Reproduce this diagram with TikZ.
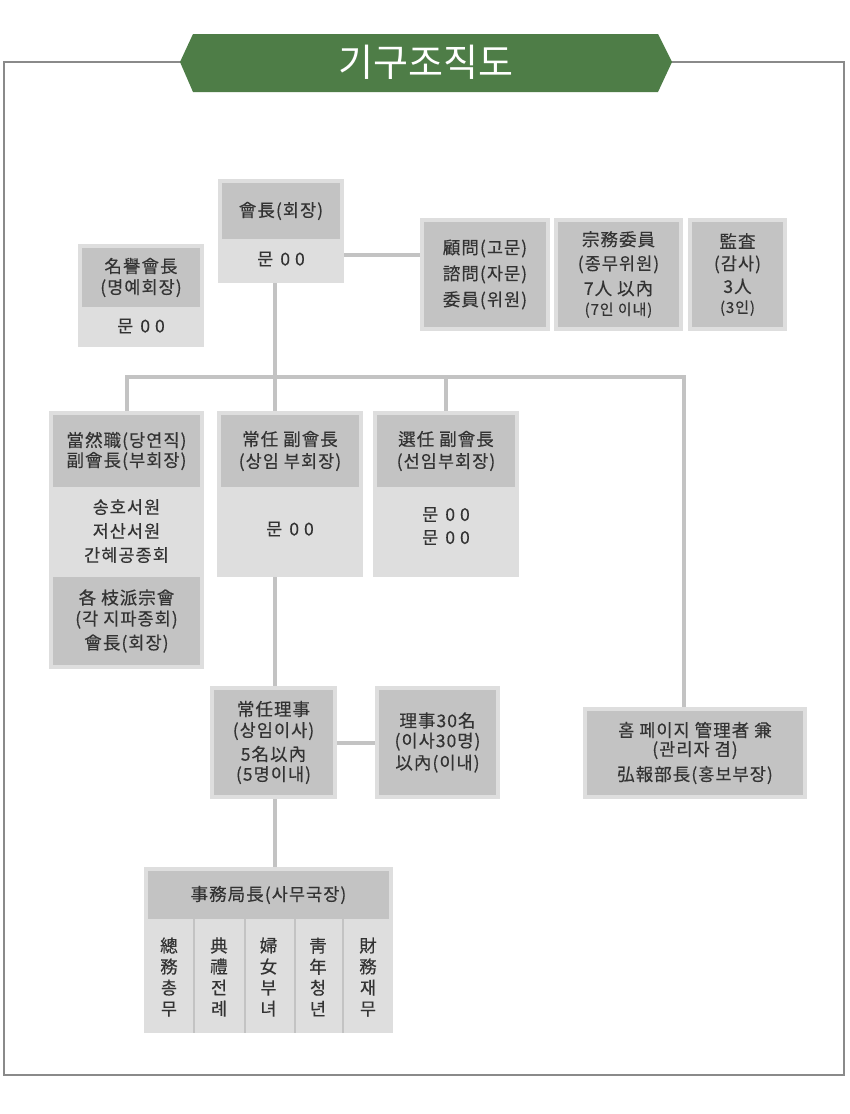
\documentclass[tikz,border=0pt]{standalone}
\usepackage{fontspec}
\setmainfont{Noto Sans CJK KR}
\newfontfamily\bodyfont[FakeBold=0.35,LetterSpace=6]{Noto Sans CJK KR}
\definecolor{Frame}{HTML}{8A8A8A}
\definecolor{Leaf}{HTML}{4E7D47}
\definecolor{PaleGrey}{HTML}{DEDEDE}
\definecolor{MidGrey}{HTML}{C3C3C3}
\definecolor{Ink}{HTML}{333333}
\newcommand{\smalltxt}{\fontsize{15}{17}\selectfont}
\newcommand{\mun}{문\hspace{7pt}0\hspace{5pt}0}

\begin{document}
\begin{tikzpicture}[x=1pt,y=-1pt,every node/.style={font=\bodyfont\fontsize{17.5}{21}\selectfont,
  text=Ink,align=center,inner sep=0pt},outer/.style={fill=PaleGrey},head/.style={fill=MidGrey},
  link/.style={draw=MidGrey,line width=4pt}]
  \fill[white] (0,0) rectangle (850,1114);
  \useasboundingbox (0,0) rectangle (850,1114);
  \draw[Frame,line width=2pt] (4,62) rectangle (844,1075);
  \fill[Leaf] (180,62)--(193,34)--(658,34)--(672,62)--(658,92)--(193,92)--cycle;
  \node[text=white,font=\fontsize{38}{42}\selectfont] (title) at (426,62) {기구조직도};
  % connectors
  \coordinate (spine) at (275,377);
  \node[outer,minimum width=126pt,minimum height=104pt] (pres) at (281,231) {};
  \node[outer,minimum width=130pt,minimum height=113pt] (adv) at (485,274.5) {};
  \node[outer,minimum width=155pt,minimum height=258pt] (dang) at (126.5,540) {};
  \node[outer,minimum width=146pt,minimum height=166pt] (vice) at (290,494) {};
  \node[outer,minimum width=146pt,minimum height=166pt] (elect) at (446,494) {};
  \node[outer,minimum width=127pt,minimum height=113pt] (exec) at (273.5,742.5) {};
  \node[outer,minimum width=125pt,minimum height=113pt] (dir) at (437.5,742.5) {};
  \node[outer,minimum width=224pt,minimum height=92pt] (home) at (695,753) {};
  \node[outer,minimum width=249pt,minimum height=166pt] (sec) at (268.5,950) {};
  \draw[link] (pres.south -| spine) -- (vice.north -| spine);
  \draw[link] (dang.north) |- (spine) -| ([xshift=-11pt]home.north);
  \draw[link] (elect.north) -- (elect.north |- spine);
  \draw[link] (vice.south -| spine) -- (exec.north -| spine);
  \draw[link] (exec.south -| spine) -- (sec.north -| spine);
  \draw[link] (exec.east) -- (dir.west);
  \coordinate (tap) at ([yshift=-24pt]pres.east);
  \draw[link] (tap) -- (tap -| adv.west);
  % top row
  \node[head,minimum width=118pt,minimum height=56pt] (presh) at (281,211) {會長(회장)};
  \node (presn) at (281,259) {\mun};
  \node[outer,minimum width=126pt,minimum height=103pt] (honor) at (141,295.5) {};
  \node[head,minimum width=118pt,minimum height=59pt] (honorh) at (141,277.5)
    {名譽會長\\[0pt](명예회장)};
  \node (honorn) at (141,326) {\mun};
  \node[head,minimum width=122pt,minimum height=105pt] (advh) at (485,274.5)
    {顧問(고문)\\[5pt]諮問(자문)\\[5pt]委員(위원)};
  \node[outer,minimum width=129pt,minimum height=113pt] (board) at (618.5,274.5) {};
  \node[head,minimum width=121pt,minimum height=105pt] (boardh) at (618.5,274.5)
    {宗務委員\\[3pt](종무위원)\\[4pt]7人 以內\\[-1pt]{\smalltxt (7인 이내)}};
  \node[outer,minimum width=99pt,minimum height=113pt] (audit) at (737.5,274.5) {};
  \node[head,minimum width=91pt,minimum height=105pt] (audith) at (737.5,274.5)
    {監査\\[1pt](감사)\\[2pt]3人\\[-1pt]{\smalltxt (3인)}};
  % middle row
  \node[head,minimum width=147pt,minimum height=72pt] (dangh) at (126.5,451)
    {當然職(당연직)\\[-1pt]副會長(부회장)};
  \node (dangn) at (126.5,531) {송호서원\\[3pt]저산서원\\[3pt]간혜공종회};
  \node[head,minimum width=147pt,minimum height=88pt] (branch) at (126.5,621)
    {各 枝派宗會\\[0pt](각 지파종회)\\[3pt]會長(회장)};
  \node[head,minimum width=138pt,minimum height=72pt] (viceh) at (290,451)
    {常任 副會長\\[1pt](상임 부회장)};
  \node (vicen) at (290,529) {\mun};
  \node[head,minimum width=138pt,minimum height=72pt] (electh) at (446,451)
    {選任 副會長\\[1pt](선임부회장)};
  \node (electn) at (446,526) {\mun\\[2pt]\mun};
  % lower row
  \node[head,minimum width=119pt,minimum height=105pt] (exech) at (273.5,742.5)
    {常任理事\\[0pt](상임이사)\\[3pt]5名以內\\[-1pt](5명이내)};
  \node[head,minimum width=117pt,minimum height=105pt] (dirh) at (437.5,742.5)
    {理事30名\\[-1pt](이사30명)\\[1pt]以內(이내)};
  \node[head,minimum width=216pt,minimum height=84pt] (homeh) at (695,753)
    {홈 페이지 管理者 兼\\[-2pt](관리자 겸)\\[4pt]弘報部長(홍보부장)};
  % bureau
  \node[head,minimum width=241pt,minimum height=48pt] (sech) at (268.5,895) {事務局長(사무국장)};
  \foreach \x in {194,245,295,343} \draw[MidGrey,line width=2.5pt] (\x,919) -- (\x,1033);
  \foreach \x/\t [count=\i] in {169/{總\\務\\총\\무},219/{典\\禮\\전\\례},268.5/{婦\\女\\부\\녀},
    318/{靑\\年\\청\\년},368/{財\\務\\재\\무}}
    \node (col\i) at (\x,977) {\t};
\end{tikzpicture}
\end{document}
